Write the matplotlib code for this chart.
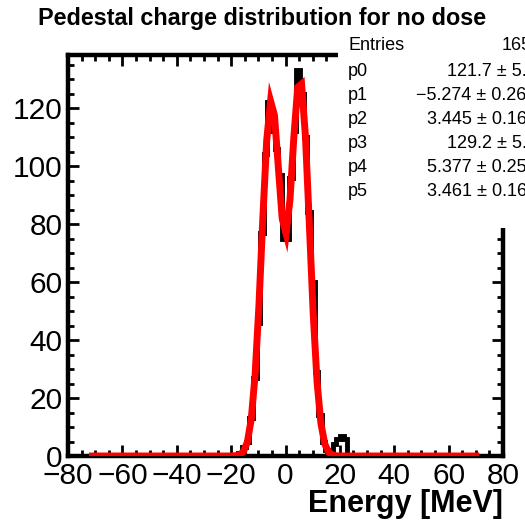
import numpy as np
import matplotlib
matplotlib.use("Agg")
import matplotlib.pyplot as plt
from matplotlib.patches import Rectangle
from matplotlib.ticker import MultipleLocator

plt.rcParams['font.family'] = ['Liberation Sans', 'DejaVu Sans']

# histogram: 120 bins from -80 to 80 MeV, only the central bins are filled
n_bins = 120
x_range = (-80, 80)
first_filled_bin = 46  # bin -18.67 .. -17.33
counts_core = [0, 1, 3, 5, 13, 27, 46, 77, 104, 122, 112, 106, 97, 75,
               75, 96, 112, 133, 125, 110, 84, 60, 29, 14, 5, 2, 0,
               4, 6, 7, 6]

# fit result (double gaussian) as shown in the stats box
fit_params = [121.7, -5.274, 3.445, 129.2, 5.377, 3.461]
fit_range = (-71, 70)

stat_labels = ["Entries", "p0", "p1", "p2", "p3", "p4", "p5"]
stat_values = ["1652", "121.7 \u00b1 5.3", "\u22125.274 \u00b1 0.266",
               "3.445 \u00b1 0.163", "129.2 \u00b1 5.7", "5.377 \u00b1 0.254",
               "3.461 \u00b1 0.163"]

edges = np.linspace(x_range[0], x_range[1], n_bins + 1)
counts = np.zeros(n_bins)
counts[first_filled_bin:first_filled_bin + len(counts_core)] = counts_core


def double_gaus(x, p):
    return (p[0] * np.exp(-0.5 * ((x - p[1]) / p[2]) ** 2)
            + p[3] * np.exp(-0.5 * ((x - p[4]) / p[5]) ** 2))


x_fit = np.linspace(fit_range[0], fit_range[1], 100)
y_fit = double_gaus(x_fit, fit_params)

W, H = 525, 520
fig = plt.figure(figsize=(W / 100, H / 100), dpi=100)
ax = fig.add_axes([68 / W, 1 - 456 / H, 435 / W, 401 / H])

ax.stairs(counts, edges, color='black', linewidth=3.5, zorder=2)
ax.plot(x_fit, y_fit, color='red', linewidth=5, zorder=3,
        solid_joinstyle='miter')

ax.set_xlim(-80, 80)
ax.set_ylim(0, 138.3)
ax.xaxis.set_major_locator(MultipleLocator(20))
ax.xaxis.set_minor_locator(MultipleLocator(5))
ax.yaxis.set_major_locator(MultipleLocator(20))
ax.yaxis.set_minor_locator(MultipleLocator(5))
ax.tick_params(which='both', direction='in', top=True, right=True, width=2)
ax.tick_params(which='major', length=8, labelsize=21.5)
ax.tick_params(axis='x', which='major', pad=4)
ax.tick_params(axis='y', which='major', pad=4)
ax.tick_params(which='minor', length=4)
for s in ax.spines.values():
    s.set_linewidth(3.2)

fig.text(0.5, 1 - 18 / H, "Pedestal charge distribution for no dose",
         ha='center', va='center', fontsize=16.8, fontweight='bold')
fig.text(503 / W, 1 - 504 / H, "Energy [MeV]", ha='right', va='center',
         fontsize=22, fontweight='bold')

# stats box, sticks out over the frame top right corner
fig.add_artist(Rectangle((338 / W, 1 - 228 / H), 200 / W, 194 / H,
                         transform=fig.transFigure, facecolor='white',
                         edgecolor='none', zorder=10))
rows_y = [46, 71, 95, 119, 143, 167, 191]
for lab, val, yy in zip(stat_labels, stat_values, rows_y):
    fig.text(348 / W, 1 - yy / H, lab, ha='left', va='center',
             fontsize=13, zorder=11)
    xr = 542 if lab == "Entries" else 537
    fig.text(xr / W, 1 - yy / H, val, ha='right', va='center',
             fontsize=13, zorder=11)

fig.savefig("out.png", dpi=100)
